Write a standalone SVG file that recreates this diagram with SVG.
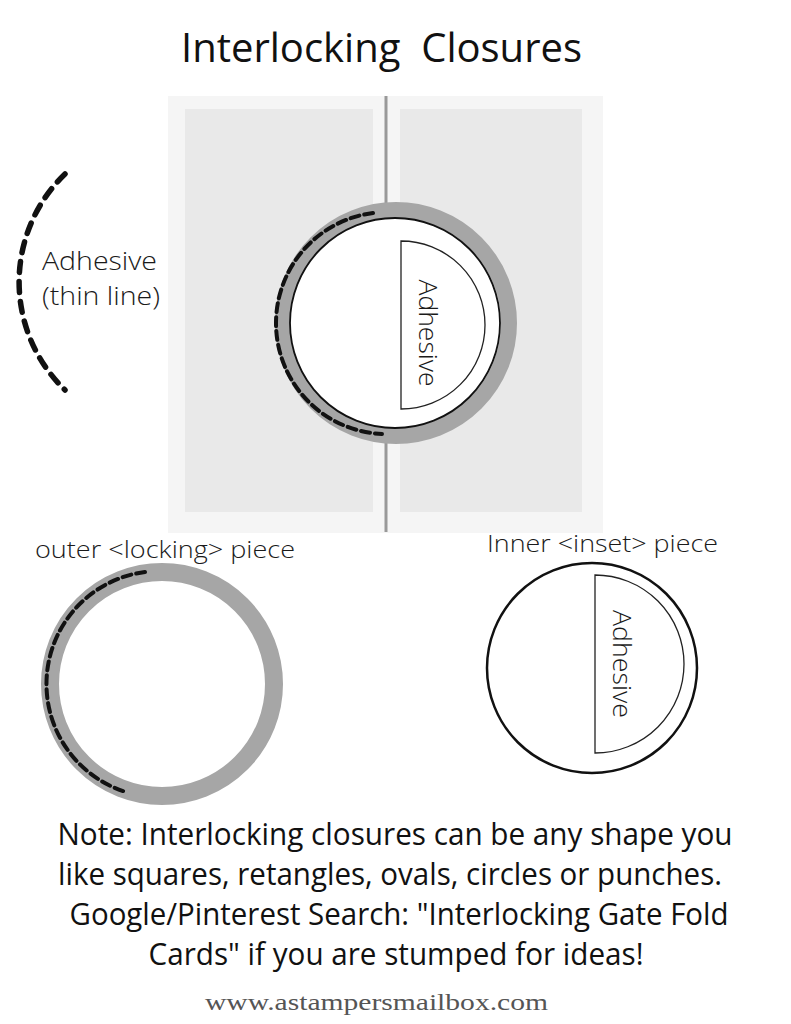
<svg xmlns="http://www.w3.org/2000/svg" width="791" height="1024" viewBox="0 0 791 1024">
<style>
.t{font-family:"Open Sans","Liberation Sans",sans-serif;fill:#111;}
.lt{font-family:"Open Sans","Liberation Sans",sans-serif;font-weight:300;fill:#1a1a1a;}
.ring{fill:none;stroke:#a6a6a6;}
.dash{fill:none;stroke:#111;stroke-linecap:round;}
.half{fill:#fff;stroke:#222;stroke-width:1.3;}
</style>
<rect width="791" height="1024" fill="#fff"/>
<text class="t" x="181" y="62" font-size="40" textLength="401" lengthAdjust="spacingAndGlyphs" xml:space="preserve">Interlocking  Closures</text>
<g id="card">
<rect x="168" y="96" width="435" height="437" fill="#f5f5f5"/>
<rect x="185" y="109" width="188" height="403" fill="#e9e9e9"/>
<rect x="400" y="109" width="182" height="403" fill="#e9e9e9"/>
<line x1="386" y1="96" x2="386" y2="532" stroke="#999" stroke-width="3"/>
</g>
<g id="assembled">
<circle class="ring" cx="396" cy="323" r="113" stroke-width="16"/>
<circle cx="395" cy="323" r="105" fill="#fff" stroke="#111" stroke-width="1.8"/>
<path class="half" d="M401,241 A84,84 0 0,1 401,409 Z"/>
<text class="lt" transform="translate(419,333) rotate(90)" font-size="26" text-anchor="middle" textLength="107" lengthAdjust="spacingAndGlyphs">Adhesive</text>
<path class="dash" d="M373,213 A111,111 0 0,0 382,434" stroke-width="4" stroke-dasharray="9 5"/>
</g>
<g id="legend">
<path class="dash" d="M65,174 A150,150 0 0,0 65,390" stroke-width="5.5" stroke-dasharray="11 9"/>
<text class="lt" x="42" y="270" font-size="25" textLength="115" lengthAdjust="spacingAndGlyphs">Adhesive</text>
<text class="lt" x="42" y="305" font-size="25" textLength="118" lengthAdjust="spacingAndGlyphs">(thin line)</text>
</g>
<g id="outer-piece">
<text class="lt" x="35" y="558" font-size="24" textLength="260" lengthAdjust="spacingAndGlyphs">outer &lt;locking&gt; piece</text>
<circle class="ring" cx="162" cy="684" r="112" stroke-width="18"/>
<path class="dash" d="M145,572 A113,113 0 0,0 126,792" stroke-width="4" stroke-dasharray="9 5"/>
</g>
<g id="inner-piece">
<text class="lt" x="487" y="552" font-size="24" textLength="231" lengthAdjust="spacingAndGlyphs">Inner &lt;inset&gt; piece</text>
<circle cx="592" cy="668" r="105" fill="#fff" stroke="#111" stroke-width="2.5"/>
<path class="half" d="M595,575 A89,89 0 0,1 595,753 Z"/>
<text class="lt" transform="translate(613,664) rotate(90)" font-size="26" text-anchor="middle" textLength="108" lengthAdjust="spacingAndGlyphs">Adhesive</text>
</g>
<g id="note" class="t" font-size="31" text-anchor="middle">
<text x="395" y="845" textLength="675" lengthAdjust="spacingAndGlyphs">Note: Interlocking closures can be any shape you</text>
<text x="390" y="885" textLength="664" lengthAdjust="spacingAndGlyphs">like squares, retangles, ovals, circles or punches.</text>
<text x="399" y="925" textLength="659" lengthAdjust="spacingAndGlyphs">Google/Pinterest Search: "Interlocking Gate Fold</text>
<text x="396" y="965" textLength="495" lengthAdjust="spacingAndGlyphs">Cards" if you are stumped for ideas!</text>
</g>
<text x="205" y="1010" font-family="Liberation Serif,serif" font-size="24" fill="#555" textLength="343" lengthAdjust="spacingAndGlyphs">www.astampersmailbox.com</text>
</svg>
